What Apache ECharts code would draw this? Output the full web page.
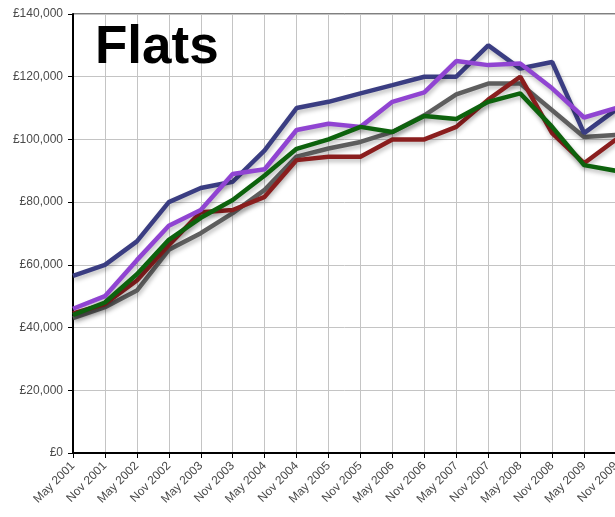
<!DOCTYPE html>
<html>
<head>
<meta charset="utf-8">
<script src="https://cdn.jsdelivr.net/npm/echarts@6/dist/echarts.min.js"></script>
<style>
html,body{margin:0;padding:0;background:#fff;}
#chart{width:615px;height:517px;}
</style>
</head>
<body>
<div id="chart"></div>
<script>
var categories = ["May 2001","Nov 2001","May 2002","Nov 2002","May 2003","Nov 2003","May 2004","Nov 2004","May 2005","Nov 2005","May 2006","Nov 2006","May 2007","Nov 2007","May 2008","Nov 2008","May 2009","Nov 2009"];
var navySeries   = [56500,60000,67500,80000,84500,86500,96500,110000,112000,114700,117300,120000,120000,130000,122600,124700,102000,109500];
var purpleSeries = [46000,50000,61500,72500,77500,89000,90500,103000,105000,104000,112000,115000,125000,123700,124200,116300,107000,110000];
var greenSeries  = [44000,48000,57000,68000,75000,80700,88500,97000,100000,104000,102400,107500,106500,112000,114700,104000,91800,90000];
var redSeries    = [44500,47500,55000,66300,76800,77500,81700,93400,94500,94500,100000,100000,104000,112700,120000,102000,92400,100000];
var greySeries   = [43000,46500,51800,64800,70100,76500,83900,94500,97100,99200,102400,107700,114400,117800,117800,109300,100800,101400];
var yTicks = [0,20000,40000,60000,80000,100000,120000,140000];
var titleText = "Flats";

function fmt(v){ return "£" + v.toLocaleString("en-GB"); }

function mk(name, data, color){
  return {
    name: name, type: 'line', data: data, symbol: 'none', smooth: false,
    lineStyle: { color: color, width: 4.5, shadowColor: 'rgba(0,0,0,0.25)', shadowBlur: 4, shadowOffsetX: 1, shadowOffsetY: 3 },
    itemStyle: { color: color }
  };
}

var chart = echarts.init(document.getElementById('chart'), null, {renderer:'canvas'});
chart.setOption({
  animation: false,
  backgroundColor: '#ffffff',
  title: { text: titleText, left: 90, top: 17, textStyle: { fontFamily: 'Liberation Sans, Arial, sans-serif', fontWeight: 'bold', fontSize: 53, color: '#000' } },
  grid: { left: 73, top: 14, bottom: 64, right: -1, show: true, borderColor: '#000', borderWidth: 1, containLabel: false, outerBoundsMode: 'none' },
  xAxis: {
    type: 'category', data: categories, boundaryGap: false,
    axisLine: { lineStyle: { color: '#000', width: 2 } },
    axisTick: { show: true, alignWithLabel: true, length: 5, lineStyle: { color: '#000' } },
    axisLabel: { rotate: 45, interval: 0, fontSize: 12, color: '#4a4a4a', fontFamily: 'Liberation Sans, Arial, sans-serif', margin: 11, hideOverlap: false },
    splitLine: { show: true, lineStyle: { color: '#c4c4c4', width: 1 } }
  },
  yAxis: {
    type: 'value', min: yTicks[0], max: yTicks[yTicks.length-1], interval: yTicks[1]-yTicks[0],
    axisLine: { show: true, lineStyle: { color: '#000', width: 2 } },
    axisTick: { show: true, length: 5, lineStyle: { color: '#000' } },
    axisLabel: { formatter: fmt, fontSize: 12, color: '#4a4a4a', fontFamily: 'Liberation Sans, Arial, sans-serif', margin: 10 },
    splitLine: { show: true, lineStyle: { color: '#c4c4c4', width: 1 } }
  },
  series: [
    mk('Grey', greySeries, '#5e5e5e'),
    mk('Red', redSeries, '#8a1e1e'),
    mk('Navy', navySeries, '#3a3d82'),
    mk('Purple', purpleSeries, '#9044d2'),
    mk('Green', greenSeries, '#0d620d')
  ]
});
</script>
</body>
</html>
